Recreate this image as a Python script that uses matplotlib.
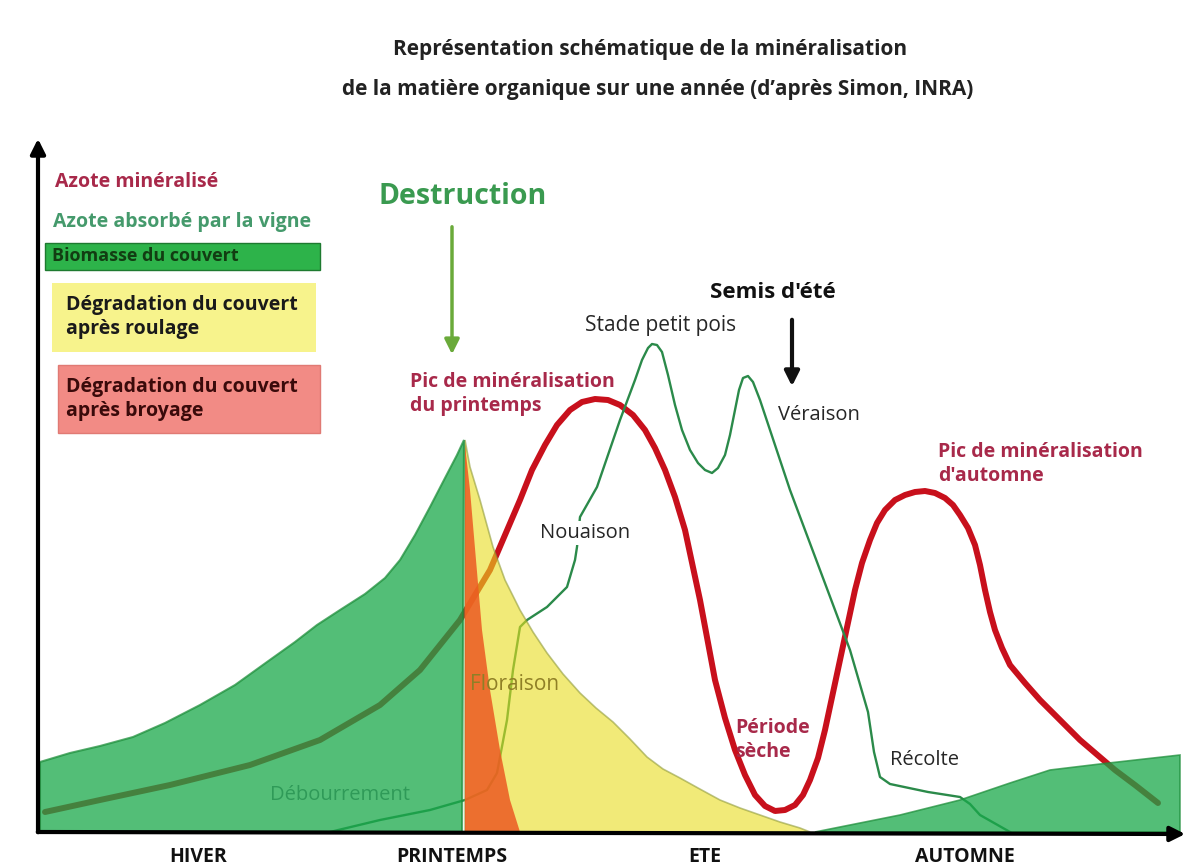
import matplotlib
matplotlib.use("Agg")
import matplotlib.pyplot as plt
from matplotlib.patches import Polygon, Rectangle

plt.rcParams['font.family'] = ['Open Sans', 'DejaVu Sans']

# ---- data (x = time from origin, y = level above the time axis) ----
# azote minéralisé (red curve)
red_x = [7, 62, 132, 212, 282, 342, 382, 422, 452,
         482, 494, 507, 519, 532, 544, 557, 570, 582, 595, 607, 617, 627, 637, 647,
         662, 677, 687, 697, 707, 717, 727, 737, 747, 757, 765, 772, 780, 787,
         802, 817, 824, 832, 839, 847, 857, 867, 877, 887, 897, 907, 915, 922, 930,
         937, 942, 947, 952, 957, 964, 972, 987, 1002, 1042, 1077, 1097, 1120]
red_y = [20, 32, 47, 67, 92, 127, 162, 212, 262,
         332, 362, 387, 407, 422, 430, 433, 432, 427, 417, 402, 384, 362, 335, 302,
         232, 152, 114, 82, 57, 37, 26, 21, 22, 27, 37, 52, 74, 102,
         172, 242, 269, 292, 309, 322, 332, 337, 340, 341, 339, 334, 327, 317, 304,
         287, 267, 242, 220, 202, 184, 167, 149, 132, 92, 62, 47, 29]

# azote absorbé par la vigne (thin green curve)
vigne_x = [292, 342, 392, 427, 449, 459, 469, 475, 482, 489, 509, 529, 537, 539,
           542, 559, 582, 597, 604, 610, 614, 619, 624, 630, 637, 644, 652, 660, 667,
           674, 680, 687, 692, 697, 701, 705, 710, 715, 722, 732, 752, 782, 812, 830,
           836, 842, 852, 890, 922, 932, 942, 972]
vigne_y = [0, 12, 22, 32, 42, 59, 112, 162, 205, 212, 225, 245, 272, 285,
           315, 345, 412, 452, 472, 484, 488, 487, 480, 457, 427, 402, 382, 369, 362,
           359, 364, 377, 397, 422, 442, 454, 456, 450, 432, 402, 342, 262, 182, 120,
           80, 55, 48, 40, 35, 28, 17, 0]

# biomasse du couvert, hiver -> destruction
bio_x = [2, 2, 32, 62, 95, 127, 162, 197, 229, 257, 279, 302, 327, 347, 362, 377,
         392, 407, 419, 426, 424]
bio_y = [0, 70, 79, 86, 95, 109, 127, 147, 170, 190, 207, 222, 238, 254, 272, 297,
         325, 354, 377, 392, 0]

# biomasse du couvert, semis d'été -> automne
bio2_x = [777, 862, 922, 972, 1012, 1062, 1142, 1142]
bio2_y = [0, 17, 32, 49, 62, 68, 77, 0]

# dégradation après roulage (yellow)
roul_x = [427, 432, 442, 455, 467, 482, 495, 509, 525, 542, 558, 575, 592, 609, 625,
          642, 660, 682, 702, 722, 742, 762, 772, 427]
roul_y = [392, 365, 332, 285, 252, 222, 200, 179, 158, 139, 124, 110, 93, 75, 63,
          54, 44, 32, 24, 17, 10, 4, 0, 0]

# dégradation après broyage (orange)
broy_x = [427, 432, 438, 444, 452, 462, 472, 482, 427]
broy_y = [387, 342, 272, 202, 142, 82, 32, 0, 0]

seasons = ["HIVER", "PRINTEMPS", "ETE", "AUTOMNE"]
season_x = [160, 414, 667, 927]

RED = "#c8101c"
RED_TXT = "#a8294a"
GREEN_TXT = "#459a6c"
VIGNE = "#2b8a4a"
DARK = "#262626"

fig = plt.figure(figsize=(11.96, 8.66), dpi=100)
ax = fig.add_axes([0, 0, 1, 1])
ax.set_xlim(-38, 1158)
ax.set_ylim(-34, 832)
ax.axis("off")

# lines first, fills drawn semi-transparent on top
ax.plot(red_x, red_y, color=RED, lw=4.3, solid_capstyle="round",
        solid_joinstyle="round", zorder=2)
ax.plot(vigne_x, vigne_y, color=VIGNE, lw=1.7, solid_joinstyle="round", zorder=2)

ax.add_patch(Polygon(list(zip(roul_x, roul_y)), closed=True, facecolor="#e8dd1e",
                     alpha=0.6, edgecolor="#8f9a3a", lw=1.2, zorder=3))
ax.add_patch(Polygon(list(zip(broy_x, broy_y)), closed=True, facecolor="#ec5a22",
                     alpha=0.85, edgecolor="none", zorder=4))
ax.add_patch(Polygon(list(zip(bio_x, bio_y)), closed=True, facecolor="#19a84a",
                     alpha=0.75, edgecolor="#1f8f3c", lw=1.5, zorder=5))
ax.add_patch(Polygon(list(zip(bio2_x, bio2_y)), closed=True, facecolor="#19a84a",
                     alpha=0.75, edgecolor="#1f8f3c", lw=1.2, zorder=5))

# axes arrows
ax.annotate("", xy=(0, 696), xytext=(0, -3),
            arrowprops=dict(arrowstyle="-|>", lw=3, color="black", mutation_scale=22),
            zorder=10)
ax.annotate("", xy=(1150, -2), xytext=(-3, 0),
            arrowprops=dict(arrowstyle="-|>", lw=3, color="black", mutation_scale=22),
            zorder=10)

# title
ax.text(612, 782, "Représentation schématique de la minéralisation",
        ha="center", va="center", fontsize=15, fontweight="bold", color="#222222")
ax.text(620, 743, "de la matière organique sur une année (d\u2019après Simon, INRA)",
        ha="center", va="center", fontsize=15, fontweight="bold", color="#222222")

# legend
ax.text(17, 650, "Azote minéralisé", ha="left", va="center", fontsize=14,
        fontweight="bold", color=RED_TXT)
ax.text(15, 610, "Azote absorbé par la vigne", ha="left", va="center", fontsize=14,
        fontweight="bold", color=GREEN_TXT)
ax.add_patch(Rectangle((7, 562), 275, 27, facecolor="#2db34a", edgecolor="#1e7a30", lw=1))
ax.text(14, 576, "Biomasse du couvert", ha="left", va="center", fontsize=13,
        fontweight="bold", color="#123d12")
ax.add_patch(Rectangle((14, 480), 264, 69, facecolor="#f7f38c", edgecolor="none"))
ax.text(28, 515, "Dégradation du couvert\naprès roulage", ha="left", va="center",
        fontsize=14, fontweight="bold", color="#1a1a1a", linespacing=1.3)
ax.add_patch(Rectangle((20, 399), 262, 68, facecolor="#f28b85", edgecolor="#e07a74", lw=1))
ax.text(28, 433, "Dégradation du couvert\naprès broyage", ha="left", va="center",
        fontsize=14, fontweight="bold", color="#3a0a0a", linespacing=1.3)

# destruction
ax.text(425, 635, "Destruction", ha="center", va="center", fontsize=20.5,
        fontweight="bold", color="#3a9a50")
ax.annotate("", xy=(414, 475), xytext=(414, 608),
            arrowprops=dict(arrowstyle="-|>", lw=2.5, color="#6aaa3a", mutation_scale=22))

# semis d'été
ax.text(735, 540, "Semis d'été", ha="center", va="center", fontsize=16,
        fontweight="bold", color="#111111")
ax.annotate("", xy=(754, 443), xytext=(754, 515),
            arrowprops=dict(arrowstyle="-|>", lw=3, color="#111111", mutation_scale=22))

# annotations
ax.text(372, 438, "Pic de minéralisation\ndu printemps", ha="left", va="center",
        fontsize=14, fontweight="bold", color=RED_TXT, linespacing=1.3)
ax.text(900, 368, "Pic de minéralisation\nd'automne", ha="left", va="center",
        fontsize=14, fontweight="bold", color=RED_TXT, linespacing=1.3)
ax.text(697, 92, "Période\nsèche", ha="left", va="center",
        fontsize=14, fontweight="bold", color=RED_TXT, linespacing=1.3, zorder=6)
ax.text(623, 507, "Stade petit pois", ha="center", va="center", fontsize=15,
        color=DARK)
ax.text(740, 417, "Véraison", ha="left", va="center", fontsize=14.5, color=DARK)
ax.text(502, 299, "Nouaison", ha="left", va="center", fontsize=14.5, color=DARK,
        bbox=dict(facecolor="white", edgecolor="none", pad=1.5), zorder=6)
ax.text(432, 147, "Floraison", ha="left", va="center", fontsize=15, color="#8f7f26",
        zorder=6)
ax.text(852, 72, "Récolte", ha="left", va="center", fontsize=14.5, color=DARK, zorder=6)
ax.text(232, 37, "Débourrement", ha="left", va="center", fontsize=14.5, color="#2f9a58",
        zorder=6)

for lab, sx in zip(seasons, season_x):
    ax.text(sx, -25, lab, ha="center", va="center", fontsize=14, fontweight="bold",
            color="#111111")

fig.savefig("out.png", dpi=100, facecolor="white")
